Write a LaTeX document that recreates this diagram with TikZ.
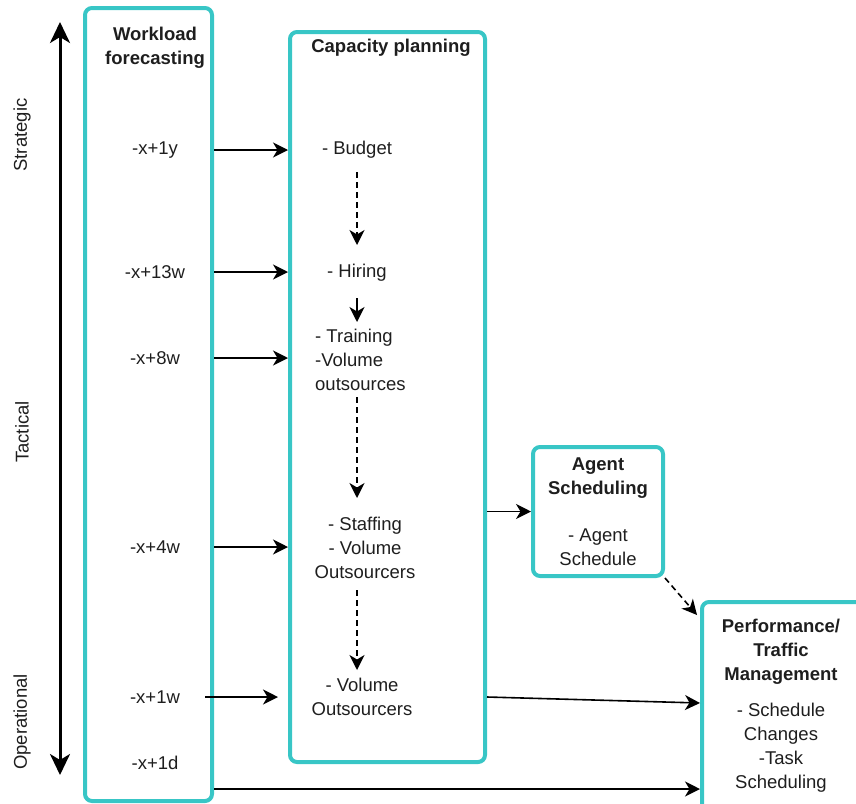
\documentclass[tikz,border=0pt]{standalone}
\usepackage{fontspec}
\setmainfont{Liberation Sans}
\usetikzlibrary{arrows.meta}
\definecolor{boxteal}{RGB}{56,198,198}
\definecolor{txtgray}{RGB}{30,30,30}

\begin{document}
\begin{tikzpicture}[x=1pt,y=-1pt,
  box/.style={draw=boxteal,line width=4pt,rounded corners=7pt,inner sep=0pt},
  lbl/.style={text=txtgray,font=\fontsize{18.5}{24}\selectfont,align=center,inner sep=0pt},
  ttl/.style={lbl,font=\fontsize{18.5}{24}\selectfont\bfseries},
  conn/.style={-{Stealth[length=15pt,width=15pt,inset=4.5pt]},line width=1.6pt},
  dconn/.style={conn,dash pattern=on 6pt off 4pt}]
  \clip (0,0) rectangle (856,803);
  % boxes
  \node[box,minimum width=127pt,minimum height=793pt] (wf) at (148.5,404.5) {};
  \node[box,minimum width=195pt,minimum height=730pt] (cp) at (387.5,397) {};
  \node[box,minimum width=130pt,minimum height=129pt] (as) at (598,511.5) {};
  \node[box,minimum width=178pt,minimum height=240pt] (ptm) at (791,722) {};
  % time axis
  \node[lbl,rotate=90] (strat) at (22,135) {Strategic};
  \node[lbl,rotate=90] (tact) at (22,432) {Tactical};
  \node[lbl,rotate=90] (oper) at (22,722) {Operational};
  \coordinate (axtop) at (60,22);
  \coordinate (axbot) at (60,775);
  \draw[{Stealth[length=21pt,width=20pt,inset=6pt]}-{Stealth[length=21pt,width=20pt,inset=6pt]},line width=3pt] (axtop) -- (axbot);
  % workload forecasting
  \node[ttl] (wft) at (155,48) {Workload\\forecasting};
  \node[lbl] (w1) at (155,150) {-x+1y};
  \node[lbl] (w2) at (155,272) {-x+13w};
  \node[lbl] (w3) at (155,358) {-x+8w};
  \node[lbl] (w4) at (155,547) {-x+4w};
  \node[lbl] (w5) at (155,697) {-x+1w};
  \node[lbl] (w6) at (155,763) {-x+1d};
  % capacity planning
  \node[ttl] (cpt) at (391,48) {Capacity planning};
  \node[lbl] (b) at (357,150) {- Budget};
  \node[lbl] (h) at (357,273) {- Hiring};
  \node[lbl,align=left,anchor=west] (tr) at (315,360) {- Training\\-Volume\\outsources};
  \node[lbl] (st) at (365,548) {- Staffing\\- Volume\\Outsourcers};
  \node[lbl] (vo) at (362,697) {- Volume\\Outsourcers};
  % agent scheduling
  \node[ttl] (ast) at (598,478) {Agent\\Scheduling};
  \node[lbl] (asb) at (598,547) {- Agent\\Schedule};
  % performance / traffic management
  \node[ttl] (ptt) at (781,652) {Performance/\\Traffic\\Management};
  \node[lbl] (ptb) at (781,747.5) {- Schedule\\Changes\\-Task\\Scheduling};
  % connectors
  \draw[conn] (wf.east |- w1) -- (cp.west |- w1);
  \draw[conn] (wf.east |- w2) -- (cp.west |- w2);
  \draw[conn] (wf.east |- w3) -- (cp.west |- w3);
  \draw[conn] (wf.east |- w4) -- (cp.west |- w4);
  \draw[conn] ([xshift=-9pt]wf.east |- w5) -- ([xshift=-10pt]cp.west |- w5);
  \coordinate (lowline) at (0,789);
  \draw[conn] (wf.east |- lowline) -- (ptm.west |- lowline);
  \draw[conn] (cp.east |- as) -- (as.west);
  \draw[conn] (cp.east |- vo) -- ([yshift=19pt]ptm.west);
  \draw[dconn] (as.south east) -- ([shift={(-3,15)}]ptm.north west);
  \draw[dconn] ([yshift=-22pt]b.center) -- ([yshift=28pt]h.center);
  \draw[conn] ([yshift=-25pt]h.center) -- ([yshift=38pt]h.center |- tr.center);
  \draw[dconn] ([yshift=-37pt]h.center |- tr.center) -- ([yshift=50pt]h.center |- st.center);
  \draw[dconn] ([yshift=-42pt]h.center |- st.center) -- ([yshift=27pt]h.center |- vo.center);
\end{tikzpicture}
\end{document}
